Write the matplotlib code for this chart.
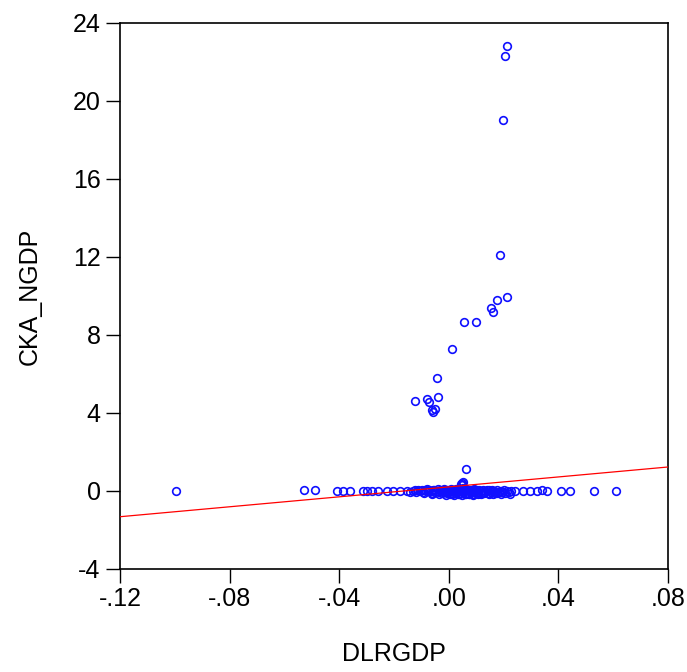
""" Scatter of CKA_NGDP against DLRGDP with fitted regression line. """

import matplotlib
matplotlib.use("Agg")
import matplotlib.pyplot as plt
from matplotlib.ticker import FuncFormatter

# outlying observations (large CKA_NGDP)
x_high = [0.0212, 0.0205, 0.0198, 0.0187, 0.0212, 0.0176, 0.0154, 0.0161,
          0.0055, 0.0099, 0.0012, -0.0044, -0.0038, -0.0124, -0.0078,
          -0.0071, -0.0063, -0.0050, -0.0059, 0.0063, 0.0047, 0.0050,
          0.0053, 0.0045]
y_high = [22.8, 22.3, 19.0, 12.1, 9.95, 9.8, 9.4, 9.2, 8.65, 8.65, 7.3,
          5.78, 4.84, 4.6, 4.7, 4.56, 4.15, 4.19, 4.07, 1.14, 0.30, 0.42,
          0.48, 0.36]

# sparse observations along zero
x_tail = [-0.0997, -0.0527, -0.0488, -0.0409, -0.0387, -0.0361, -0.0312,
          -0.0297, -0.0281, -0.0259, -0.0227, -0.0203, -0.0178, -0.0154,
          -0.0140, 0.0609, 0.0531, 0.0442, 0.0410, 0.0357, 0.0339, 0.0321,
          0.0296, 0.0272, 0.0242]
y_tail = [0.02, 0.03, 0.05, 0.01, 0.02, 0.01, 0.01, 0.02, 0.00, 0.01,
          0.00, -0.02, 0.01, 0.00, -0.03, 0.01, 0.02, 0.00, 0.01, 0.02,
          0.03, 0.01, 0.02, 0.00, 0.01]

# dense cluster near the origin
x_dense = [-0.0132, -0.0125, -0.0118, -0.0111, -0.0105, -0.0098, -0.0093,
           -0.0087, -0.0081, -0.0076, -0.0071, -0.0066, -0.0062, -0.0057,
           -0.0053, -0.0049, -0.0045, -0.0041, -0.0037, -0.0033, -0.0029,
           -0.0026, -0.0022, -0.0019, -0.0015, -0.0012, -0.0008, -0.0005,
           -0.0002, 0.0001, 0.0004, 0.0007, 0.0010, 0.0013, 0.0016, 0.0019,
           0.0022, 0.0025, 0.0028, 0.0031, 0.0034, 0.0037, 0.0040, 0.0043,
           0.0046, 0.0049, 0.0052, 0.0055, 0.0058, 0.0061, 0.0064, 0.0067,
           0.0070, 0.0073, 0.0076, 0.0079, 0.0082, 0.0085, 0.0088, 0.0091,
           0.0094, 0.0097, 0.0100, 0.0104, 0.0108, 0.0112, 0.0116, 0.0120,
           0.0124, 0.0128, 0.0133, 0.0138, 0.0143, 0.0148, 0.0153, 0.0158,
           0.0164, 0.0170, 0.0176, 0.0182, 0.0189, 0.0196, 0.0203, 0.0211,
           0.0219, 0.0228,
           -0.0090, -0.0060, -0.0035, -0.0010, 0.0005, 0.0020, 0.0035,
           0.0050, 0.0062, 0.0075, 0.0090, 0.0105, 0.0118, 0.0130, 0.0145,
           0.0160, 0.0175, 0.0190, 0.0205, 0.0222]
y_dense = [0.02, 0.05, -0.03, 0.04, 0.00, 0.06, -0.05, 0.03, 0.08, -0.02,
           0.05, 0.00, -0.08, 0.04, 0.07, -0.04, 0.02, 0.09, -0.06, 0.03,
           0.00, -0.10, 0.05, 0.08, -0.03, 0.02, -0.12, 0.06, 0.01, -0.07,
           0.04, 0.10, -0.02, -0.14, 0.07, 0.03, -0.09, 0.05, 0.12, -0.05,
           0.02, -0.16, 0.08, 0.00, -0.11, 0.06, 0.15, -0.04, -0.18, 0.09,
           0.03, -0.08, 0.05, -0.13, 0.07, 0.01, -0.06, 0.04, -0.15, 0.08,
           -0.02, 0.05, -0.10, 0.03, -0.07, 0.06, 0.00, -0.12, 0.04, -0.05,
           0.02, 0.07, -0.09, 0.03, -0.04, 0.05, 0.01, -0.08, 0.04, -0.03,
           0.02, -0.06, 0.03, 0.00, -0.05, 0.02,
           -0.12, -0.15, -0.18, -0.20, -0.16, -0.19, -0.14, -0.21, -0.17,
           -0.13, -0.19, -0.15, -0.18, -0.12, -0.16, -0.14, -0.11, -0.15,
           -0.10, -0.13]

# fitted OLS line
fit_intercept = 0.21
fit_slope = 12.75
x_limits = [-0.12, 0.08]

xs = x_high + x_tail + x_dense
ys = y_high + y_tail + y_dense

plt.rcParams['font.family'] = ['Liberation Sans', 'DejaVu Sans']
plt.rcParams['axes.unicode_minus'] = False

fig = plt.figure(figsize=(6.87, 6.72), dpi=100)
ax = fig.add_axes([0.1747, 0.1533, 0.7976, 0.8125])

ax.plot(xs, ys, linestyle='none', marker='o', markersize=5.5,
        markerfacecolor='none', markeredgecolor='#1010ff',
        markeredgewidth=1.2, zorder=3)
ax.plot(x_limits, [fit_intercept + fit_slope * v for v in x_limits],
        color='red', linewidth=0.9, zorder=4)

ax.set_xlim(-0.12, 0.08)
ax.set_ylim(-4, 24)
ax.set_xticks([-0.12, -0.08, -0.04, 0.0, 0.04, 0.08])
ax.set_yticks([-4, 0, 4, 8, 12, 16, 20, 24])


def fmt_x(v, pos):
    s = "%.2f" % v
    if s.startswith("-0"):
        s = "-" + s[2:]
    elif s.startswith("0"):
        s = s[1:]
    return s


ax.xaxis.set_major_formatter(FuncFormatter(fmt_x))
ax.tick_params(direction='out', length=10, width=1, labelsize=18,
               top=False, right=False)
ax.tick_params(axis='x', pad=3)
ax.tick_params(axis='y', pad=4)
for sp in ax.spines.values():
    sp.set_linewidth(1.2)

ax.set_xlabel("DLRGDP", fontsize=18, labelpad=22)
ax.set_ylabel("CKA_NGDP", fontsize=18, labelpad=22)

fig.savefig("out.png", dpi=100)
